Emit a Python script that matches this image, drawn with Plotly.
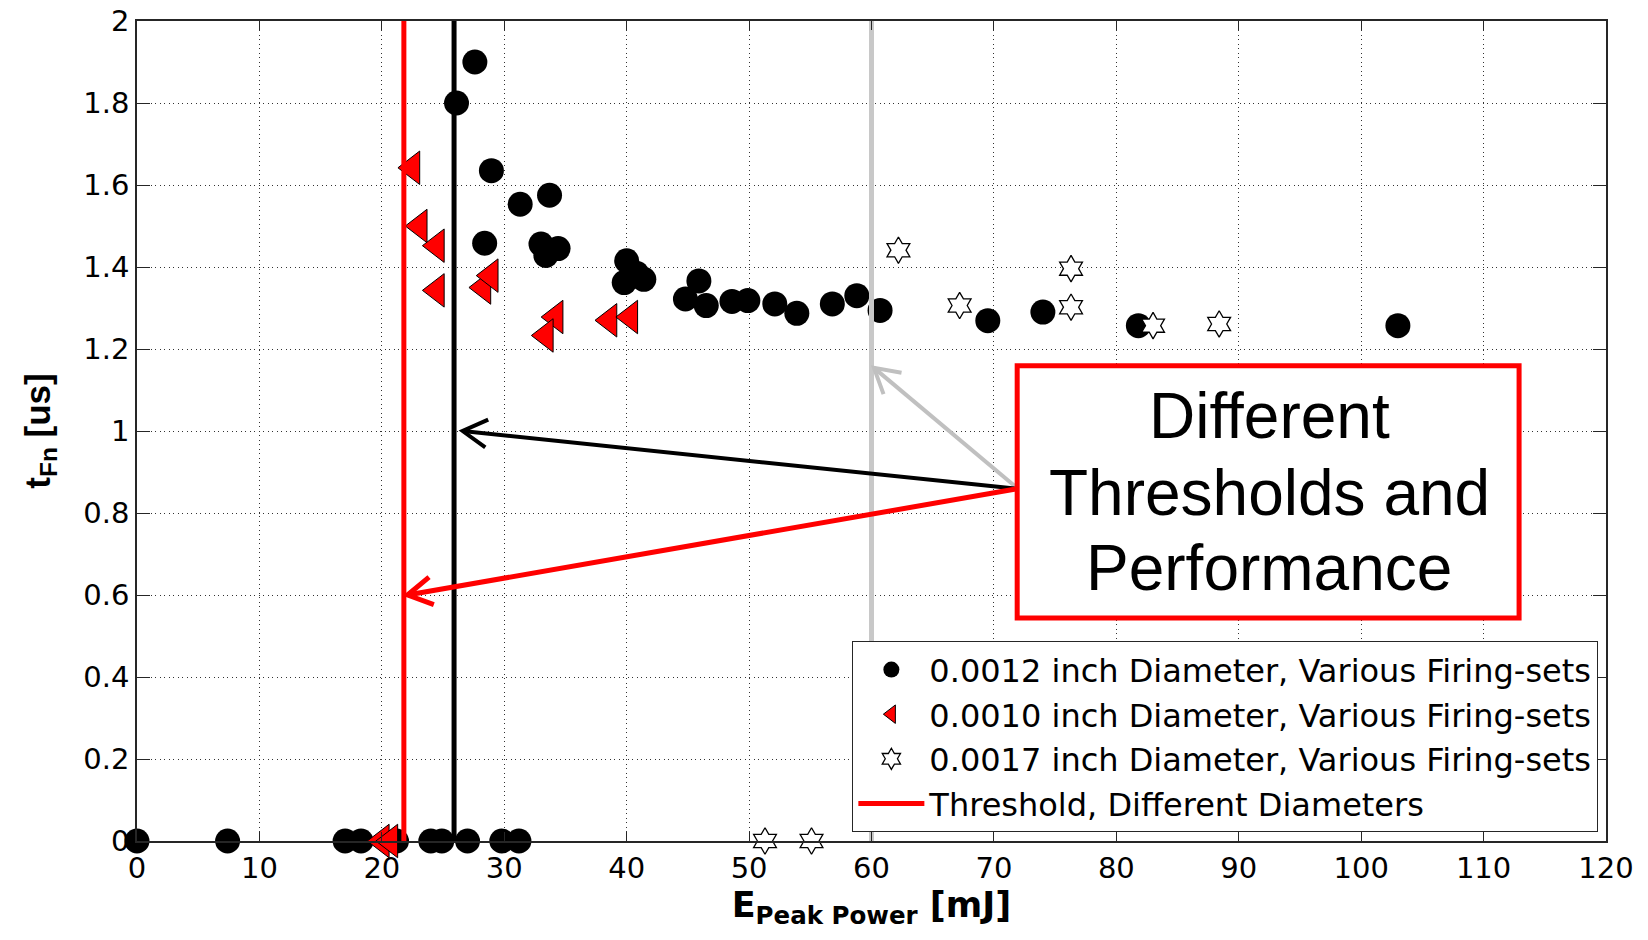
import math
import plotly.graph_objects as go

# ---------------- data ----------------
d12_x = [0, 7.4, 17.0, 18.3, 21.2, 24.0, 24.9, 27.0, 29.8, 31.2,
         27.6, 26.1, 28.95, 31.3, 33.7, 28.4, 33.0, 33.4, 34.4,
         40.0, 39.8, 40.8, 41.4, 44.8, 45.9, 46.5, 48.6, 49.9, 52.1,
         53.9, 56.8, 58.8, 60.7, 69.5, 74.0, 81.8, 103.0]
d12_y = [0, 0, 0, 0, 0, 0, 0, 0, 0, 0,
         1.90, 1.80, 1.635, 1.553, 1.575, 1.458, 1.456, 1.428, 1.445,
         1.415, 1.362, 1.385, 1.370, 1.322, 1.366, 1.306, 1.316, 1.318, 1.310,
         1.287, 1.310, 1.330, 1.294, 1.269, 1.290, 1.257, 1.257]

d10_x = [20.0, 20.7, 22.5, 23.1, 24.5, 24.5, 28.3, 28.9, 34.2, 33.4, 38.6, 40.3]
d10_y = [0, 0, 1.642, 1.50, 1.452, 1.343, 1.35, 1.379, 1.278, 1.233, 1.27, 1.278]

d17_x = [51.3, 55.1, 62.2, 67.2, 76.3, 76.3, 83.0, 88.4]
d17_y = [0, 0, 1.441, 1.306, 1.396, 1.302, 1.257, 1.261]

thr_red = 21.8     # threshold, 0.0010 inch
thr_black = 25.9   # threshold, 0.0012 inch
thr_gray = 60.0    # threshold, 0.0017 inch
y_span = [0, 2]

x_tickvals = [0, 10, 20, 30, 40, 50, 60, 70, 80, 90, 100, 110, 120]
x_ticktext = ["0", "10", "20", "30", "40", "50", "60", "70", "80", "90", "100", "110", "120"]
y_tickvals = [0, 0.2, 0.4, 0.6, 0.8, 1.0, 1.2, 1.4, 1.6, 1.8, 2.0]
y_ticktext = ["0", "0.2", "0.4", "0.6", "0.8", "1", "1.2", "1.4", "1.6", "1.8", "2"]

names = ["0.0012 inch Diameter, Various Firing-sets",
         "0.0010 inch Diameter, Various Firing-sets",
         "0.0017 inch Diameter, Various Firing-sets",
         "Threshold, Different Diameters"]

box_lines = ["Different", "Thresholds and", "Performance"]

# ---------------- layout geometry ----------------
W, H = 1632, 924          # page body has an 8px margin
ML, MR, MT, MB = 129, 34, 13, 91
XR = [0, 120]
YR = [0, 2]
kx = (W - ML - MR) / (XR[1] - XR[0])   # px per x unit
ky = (H - MT - MB) / (YR[1] - YR[0])   # px per y unit

AX = "#262626"
fig = go.Figure()

fig.add_trace(go.Scatter(x=d12_x, y=d12_y, mode="markers", name=names[0],
                         cliponaxis=False,
                         marker=dict(symbol="circle", size=25, color="black",
                                     line=dict(width=0))))
fig.add_trace(go.Scatter(x=d10_x, y=d10_y, mode="markers", name=names[1],
                         cliponaxis=False,
                         marker=dict(symbol="triangle-left", size=29, color="#ff0000",
                                     line=dict(width=1, color="black"))))
fig.add_trace(go.Scatter(x=d17_x, y=d17_y, mode="markers", name=names[2],
                         cliponaxis=False,
                         marker=dict(symbol="hexagram", size=20, color="white",
                                     line=dict(width=1.3, color="black"))))
fig.add_trace(go.Scatter(x=[thr_red, thr_red], y=y_span, mode="lines", name=names[3],
                         line=dict(color="#ff0000", width=5)))
fig.add_trace(go.Scatter(x=[thr_black, thr_black], y=y_span, mode="lines",
                         showlegend=False, line=dict(color="black", width=5)))
fig.add_trace(go.Scatter(x=[thr_gray, thr_gray], y=y_span, mode="lines",
                         showlegend=False, line=dict(color="#c8c8c8", width=5)))

# arrows from the box to the threshold lines (line + open chevron head)
arrows = [  # tip x, tip y, tail x, tail y, colour, width
    (60.2, 1.154, 71.7, 0.866, "#c0c0c0", 4),
    (26.6, 1.0, 71.9, 0.859, "black", 4),
    (22.1, 0.60, 71.9, 0.859, "#ff0000", 5),
]
HEAD_LEN, HEAD_ANG = 28, math.radians(30)
for tx, ty, sx, sy, col, w in arrows:
    fig.add_shape(type="line", xref="x", yref="y", x0=sx, y0=sy, x1=tx, y1=ty,
                  line=dict(color=col, width=w), layer="above")
    dx, dy = (sx - tx) * kx, (sy - ty) * ky
    n = math.hypot(dx, dy)
    ux, uy = dx / n, dy / n
    pts = []
    for s in (1, -1):
        c, si = math.cos(s * HEAD_ANG), math.sin(s * HEAD_ANG)
        rx, ry = ux * c - uy * si, ux * si + uy * c
        pts.append((tx + HEAD_LEN * rx / kx, ty + HEAD_LEN * ry / ky))
    path = f"M{pts[0][0]},{pts[0][1]} L{tx},{ty} L{pts[1][0]},{pts[1][1]}"
    fig.add_shape(type="path", xref="x", yref="y", path=path,
                  line=dict(color=col, width=w), layer="above")

# annotation box
fig.add_shape(type="rect", xref="x", yref="y", x0=71.9, x1=112.9, y0=0.544, y1=1.159,
              line=dict(color="#ff0000", width=5), fillcolor="white", layer="above")
for txt, yy in zip(box_lines, [1.037, 0.849, 0.666]):
    fig.add_annotation(x=92.5, y=yy, xref="x", yref="y", text=txt, showarrow=False,
                       xanchor="center", yanchor="middle",
                       font=dict(family="Liberation Sans, Arial", size=64, color="black"))

fig.update_layout(
    width=W, height=H,
    paper_bgcolor="white", plot_bgcolor="white",
    margin=dict(l=ML, r=MR, t=MT, b=MB, autoexpand=False),
    showlegend=True,
    legend=dict(x=0.9946, xanchor="right", y=0.011, yanchor="bottom",
                bgcolor="white", bordercolor=AX, borderwidth=1.3,
                font=dict(family="DejaVu Sans", size=32, color="black"),
                itemwidth=66, tracegroupgap=0, itemsizing="trace"),
    font=dict(family="Liberation Sans, Arial", color="black"),
)

common = dict(showline=True, linecolor=AX, linewidth=1.5, mirror="ticks",
              ticks="inside", tickcolor=AX, tickwidth=1.2,
              showgrid=True, gridcolor="#333333", gridwidth=1, griddash="1px,3.5px",
              zeroline=False, ticklabeloverflow="allow",
              tickfont=dict(family="DejaVu Sans", size=29, color="black"))

fig.update_xaxes(range=XR, tickvals=x_tickvals, ticktext=x_ticktext, ticklen=9,
                 title=dict(text="<b>E<sub>Peak Power</sub> [mJ]</b>", standoff=4,
                            font=dict(family="DejaVu Sans", size=35, color="black")),
                 **common)
fig.update_yaxes(range=YR, tickvals=y_tickvals, ticktext=y_ticktext, ticklen=13,
                 title=dict(text="<b>t<sub>Fn</sub> [us]</b>", standoff=22,
                            font=dict(family="Liberation Sans, Arial", size=35, color="black")),
                 **common)

fig.write_html("out.html")
